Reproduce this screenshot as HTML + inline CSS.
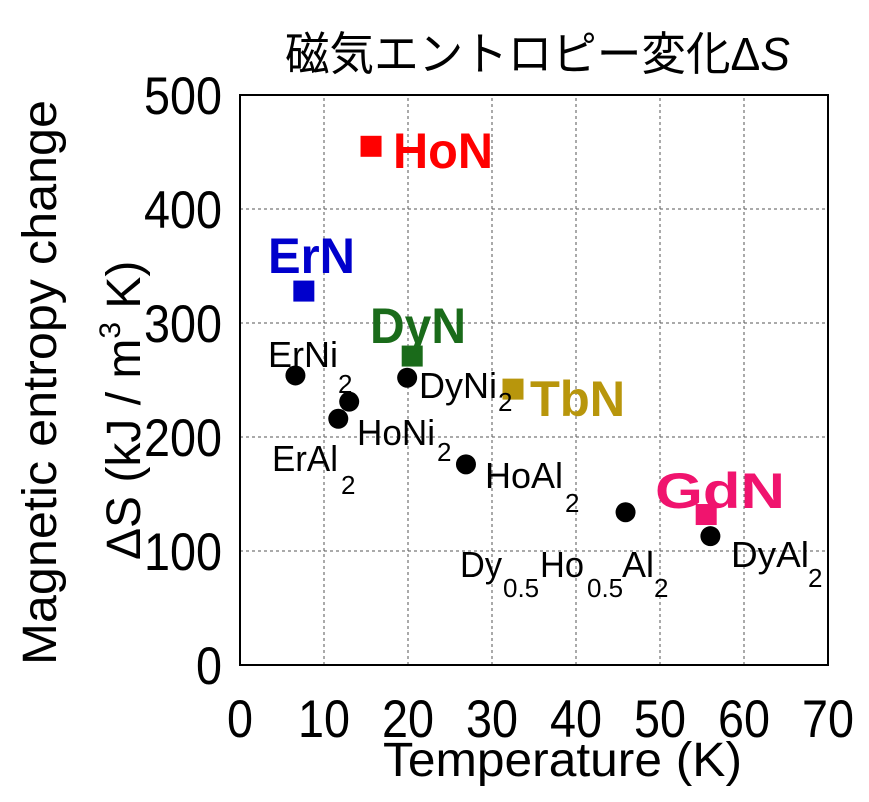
<!DOCTYPE html>
<html><head><meta charset="utf-8"><style>
html,body{margin:0;padding:0;background:#fff;}
svg text{font-family:"Liberation Sans","Noto Sans CJK JP",sans-serif;}
</style></head><body>
<svg id="chart" width="869" height="797" viewBox="0 0 869 797" xmlns="http://www.w3.org/2000/svg">
<rect width="869" height="797" fill="#fff"/>
<text x="285" y="70" font-size="46" textLength="505" lengthAdjust="spacingAndGlyphs">磁気エントロピー変化Δ<tspan font-style="italic">S</tspan></text>
<g id="grid"></g>
<rect x="240" y="95" width="588" height="570" fill="none" stroke="#000" stroke-width="2"/>
<g id="ticks"></g>
<g id="marks"></g>
<g id="labels"></g>
<text x="383" y="776" font-size="48" textLength="359" lengthAdjust="spacingAndGlyphs">Temperature (K)</text>
<text transform="translate(56,665) rotate(-90)" font-size="48" textLength="565" lengthAdjust="spacingAndGlyphs">Magnetic entropy change</text>
<text transform="translate(140,560) rotate(-90)" font-size="48">ΔS (kJ / m<tspan font-size="30" dy="-20">3</tspan><tspan dy="20"> K)</tspan></text>
</svg>
<script>
const xTicks=[0,10,20,30,40,50,60,70];
const yTicks=[0,100,200,300,400,500];
const squareNames=["HoN","ErN","DyN","TbN","GdN"];
const squareT=[15.6,7.6,20.5,32.5,55.5];
const squareS=[455,328,271,242,132];
const squareColors=["#ff0000","#0000cc","#1a6b1a","#b8960c","#f0146e"];
const circleNames=["ErNi2","HoNi2","ErAl2","DyNi2","HoAl2","Dy0.5Ho0.5Al2","DyAl2"];
const circleT=[6.6,13,11.7,19.9,26.9,45.9,56];
const circleS=[254,231,216,252,176,134,113];

const X0=240,X1=828,Y0=665,Y1=95;
const xs=v=>X0+(v-0)/(70-0)*(X1-X0);
const ys=v=>Y0-(v-0)/(500-0)*(Y0-Y1);
const NS="http://www.w3.org/2000/svg";
function mk(tag,attrs,parent,txt){const e=document.createElementNS(NS,tag);for(const k in attrs)e.setAttribute(k,attrs[k]);if(txt!==undefined)e.textContent=txt;document.getElementById(parent).appendChild(e);return e;}
xTicks.forEach((t,i)=>{
 if(t>0&&t<70){const g=mk('line',{x1:xs(t),x2:xs(t),y1:Y0,y2:Y1,stroke:'#555','stroke-width':1,'stroke-dasharray':'3,3'},'grid');
 
 }
 const s=String(t);
 const l=mk('text',{x:xs(t),y:737,'font-size':53,'text-anchor':'middle',textLength:s.length*26,lengthAdjust:'spacingAndGlyphs'},'ticks',s);
 
 
});
yTicks.forEach(t=>{
 if(t>0&&t<500){const g=mk('line',{x1:X0,x2:X1,y1:ys(t),y2:ys(t),stroke:'#555','stroke-width':1,'stroke-dasharray':'3,3'},'grid');
 
 }
 const s=String(t);
 const l=mk('text',{x:222,y:ys(t)+19,'font-size':53,'text-anchor':'end',textLength:s.length*26,lengthAdjust:'spacingAndGlyphs'},'ticks',s);
 
 
});
squareT.forEach((t,i)=>{
 const r=mk('rect',{x:xs(t)-10.5,y:ys(squareS[i])-10.5,width:21,height:21,fill:squareColors[i]},'marks');
 
 
});
circleT.forEach((t,i)=>{
 const c=mk('circle',{cx:xs(t),cy:ys(circleS[i]),r:10,fill:'#000'},'marks');
 
 
});
// labels: [text,x,y,size,color,bold,width]
const lbls=[
 ["HoN",393,168,50,"#ff0000",1,100],["ErN",268,273,50,"#0000cc",1,87],["DyN",370,343,50,"#1a6b1a",1,96],
 ["TbN",530,416,50,"#b8960c",1,95],["GdN",655,508,50,"#f0146e",1,130],
 ["ErNi",268,367,36,"#000",0,70],["2",338,393,26,"#000",0,0],
 ["DyNi",419,398,36,"#000",0,78],["2",498,411,26,"#000",0,0],
 ["HoNi",357,445,36,"#000",0,78],["2",437,461,26,"#000",0,0],
 ["ErAl",272,471,36,"#000",0,66],["2",341,494,26,"#000",0,0],
 ["HoAl",485,488,36,"#000",0,78],["2",565,512,26,"#000",0,0],
 ["Dy",460,577,36,"#000",0,42],["0.5",503,597,26,"#000",0,0],["Ho",540,577,36,"#000",0,44],["0.5",587,597,26,"#000",0,0],["Al",622,577,36,"#000",0,32],["2",654,597,26,"#000",0,0],
 ["DyAl",731,567,36,"#000",0,78],["2",808,587,26,"#000",0,0]
];
lbls.forEach(a=>{
 const at={x:a[1],y:a[2],'font-size':a[3],fill:a[4],'font-weight':a[5]?'bold':'normal'};
 if(a[6]){at.textLength=a[6];at.lengthAdjust='spacingAndGlyphs';}
 const t=mk('text',at,'labels',a[0]);
 
 
});
</script>
</body></html>
